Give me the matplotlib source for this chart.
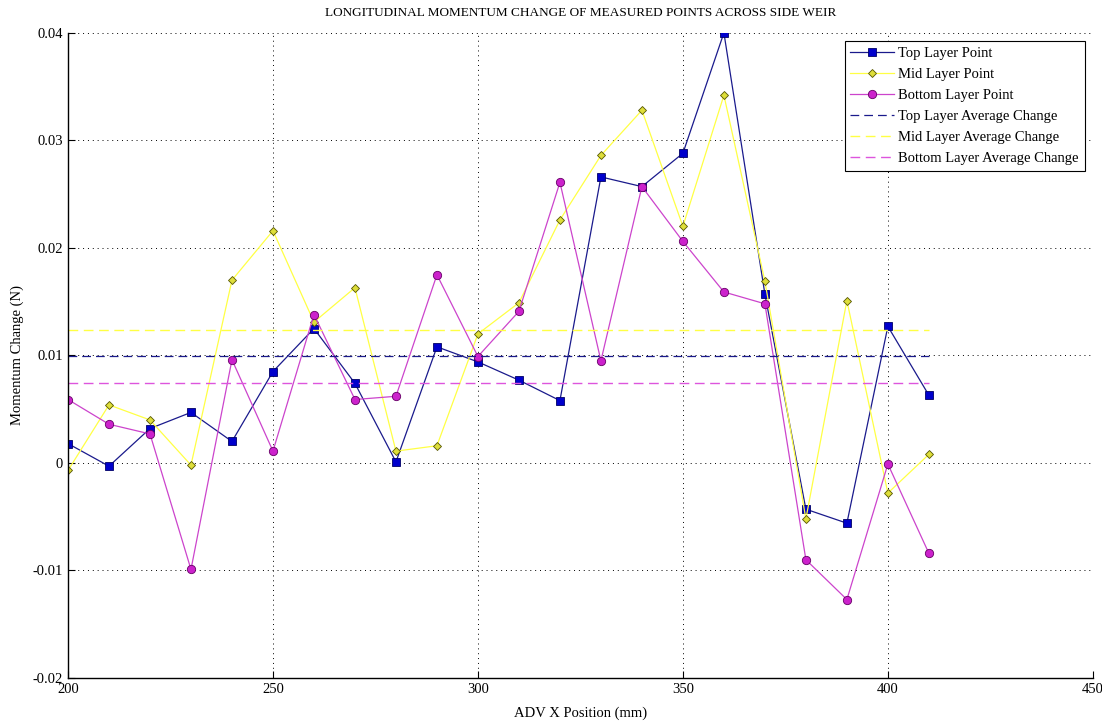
import numpy as np
import matplotlib
matplotlib.use("Agg")
import matplotlib.pyplot as plt
from matplotlib.ticker import FuncFormatter

plt.rcParams['font.family'] = ['Liberation Serif', 'DejaVu Serif']

# ADV x positions (mm)
x_pos = [200, 210, 220, 230, 240, 250, 260, 270, 280, 290, 300,
         310, 320, 330, 340, 350, 360, 370, 380, 390, 400, 410]

top_layer = [0.0018, -0.0003, 0.0032, 0.0047, 0.0020, 0.0085, 0.0125, 0.0074,
             0.0001, 0.0108, 0.0094, 0.0077, 0.0058, 0.0266, 0.0257, 0.0288,
             0.0400, 0.0157, -0.0043, -0.0056, 0.0127, 0.0063]
mid_layer = [-0.0007, 0.0054, 0.0040, -0.0002, 0.0170, 0.0216, 0.0131, 0.0163,
             0.0011, 0.0016, 0.0120, 0.0149, 0.0226, 0.0286, 0.0328, 0.0220,
             0.0342, 0.0169, -0.0052, 0.0151, -0.0028, 0.0008]
bottom_layer = [0.0059, 0.0036, 0.0027, -0.0099, 0.0096, 0.0011, 0.0138, 0.0059,
                0.0062, 0.0175, 0.0099, 0.0141, 0.0261, 0.0095, 0.0257, 0.0206,
                0.0159, 0.0148, -0.0090, -0.0127, -0.0001, -0.0084]

x_ticks = [200, 250, 300, 350, 400, 450]
y_ticks = [-0.02, -0.01, 0, 0.01, 0.02, 0.03, 0.04]

top_avg = np.mean(top_layer)
mid_avg = np.mean(mid_layer)
bottom_avg = np.mean(bottom_layer)

fig = plt.figure(figsize=(11.02, 7.23), dpi=100)
ax = fig.add_axes([0.0617, 0.0622, 0.930, 0.8924])

ax.plot(x_pos, top_layer, color='#1a1a8c', lw=0.9, marker='s', ms=5.5,
        mfc='#0000cc', mec='#000066', mew=0.6, label='Top Layer Point')
ax.plot(x_pos, mid_layer, color='#ffff44', lw=0.9, marker='D', ms=4.5,
        mfc='#dede3a', mec='#555500', mew=0.6, label='Mid Layer Point')
ax.plot(x_pos, bottom_layer, color='#cc44cc', lw=0.9, marker='o', ms=6,
        mfc='#cc22cc', mec='#660066', mew=0.6, label='Bottom Layer Point')

x_span = [x_pos[0], x_pos[-1]]
ax.plot(x_span, [top_avg, top_avg], color='#1a1a8c', lw=0.9, ls=(0, (7, 4)),
        label='Top Layer Average Change')
ax.plot(x_span, [mid_avg, mid_avg], color='#ffff44', lw=1.0, ls=(0, (7, 4)),
        label='Mid Layer Average Change')
ax.plot(x_span, [bottom_avg, bottom_avg], color='#dd55dd', lw=1.0, ls=(0, (7, 4)),
        label='Bottom Layer Average Change')

ax.set_xlim(200, 450)
ax.set_ylim(-0.02, 0.04)
ax.set_xticks(x_ticks)
ax.set_yticks(y_ticks)
ax.yaxis.set_major_formatter(FuncFormatter(lambda v, p: '%g' % round(v, 4)))
ax.tick_params(direction='in', length=5, labelsize=10.5, width=0.8)
ax.grid(True, color='black', ls=(0, (1, 4)), lw=0.7)

ax.spines['top'].set_visible(False)
ax.spines['right'].set_visible(False)
ax.spines['left'].set_linewidth(1.0)
ax.spines['bottom'].set_linewidth(1.0)

ax.set_title('LONGITUDINAL MOMENTUM CHANGE OF MEASURED POINTS ACROSS SIDE WEIR',
             fontsize=9.5, pad=12)
ax.set_xlabel('ADV X Position (mm)', fontsize=10.5, labelpad=8)
ax.set_ylabel('Momentum Change (N)', fontsize=10.5, labelpad=6)

leg = ax.legend(loc='upper right', fontsize=10.5, fancybox=False, framealpha=1,
                edgecolor='black', borderaxespad=0.55, handlelength=3,
                handletextpad=0.3, labelspacing=0.54, borderpad=0.4)
leg.get_frame().set_linewidth(0.8)

fig.savefig('out.png', dpi=100)
